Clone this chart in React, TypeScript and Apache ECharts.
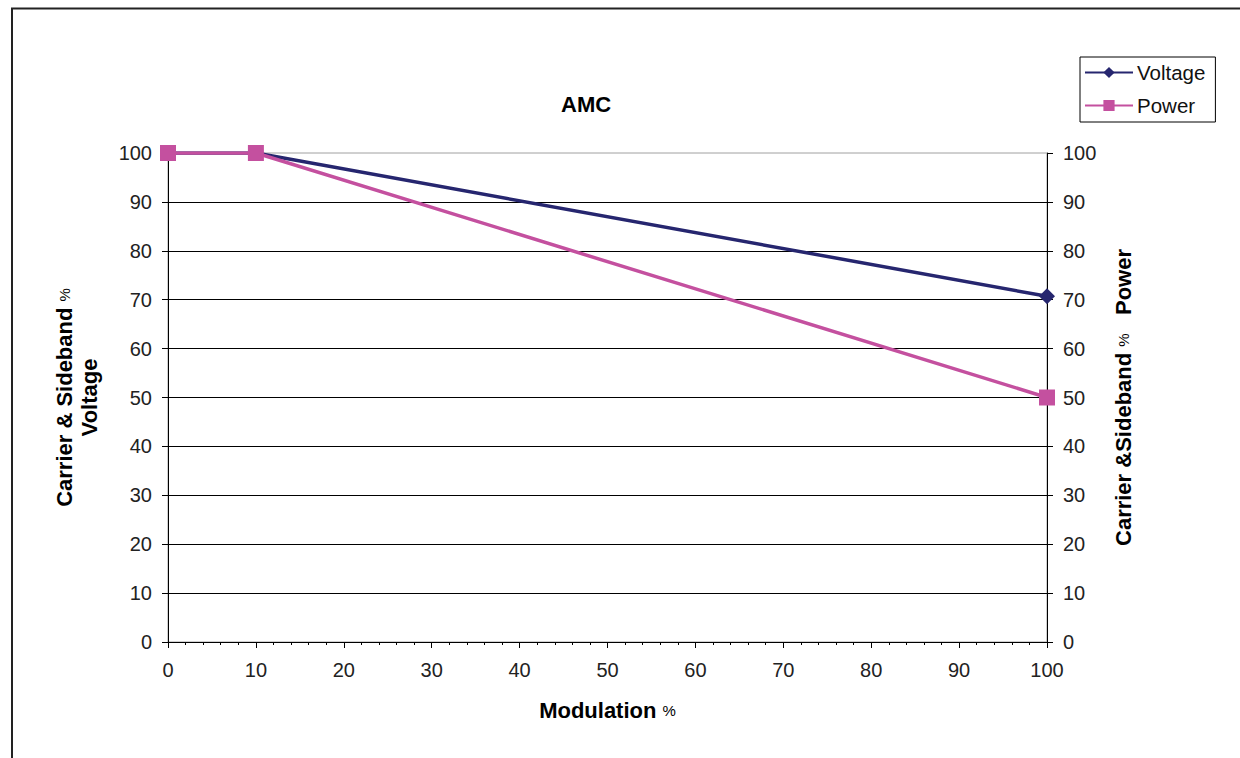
import React, { useEffect, useRef } from "react";
import * as echarts from "echarts";

const modulation: number[] = [0, 10, 100];
const voltage: number[] = [100, 100, 70.7];
const power: number[] = [100, 100, 50];
const xTicks = { min: 0, max: 100, interval: 10 };
const yTicks = { min: 0, max: 100, interval: 10 };

const FONT = "'Liberation Sans', Arial, sans-serif";
const NAVY = "#26266f";
const PINK = "#c4509f";

export default function App() {
  const ref = useRef<HTMLDivElement>(null);
  useEffect(() => {
    if (!ref.current) return;
    const chart = echarts.init(ref.current, undefined, { renderer: "svg" });
    const nameRich = {
      b: { fontSize: 22, fontWeight: "bold", fontFamily: FONT, color: "#000", lineHeight: 25 },
      p: { fontSize: 15, fontWeight: "normal", fontFamily: FONT, color: "#000", lineHeight: 25 },
    };
    const labelStyle = { fontSize: 20, fontFamily: FONT, color: "#222" };
    const option: any = {
      animation: false,
      backgroundColor: "#fff",
      title: {
        text: "AMC",
        left: 561,
        top: 93,
        padding: 0,
        textStyle: { fontSize: 22, fontWeight: "bold", fontFamily: FONT, color: "#000" },
      },
      legend: {
        orient: "vertical",
        left: 1080,
        top: 57,
        padding: [5, 10, 6, 4],
        itemWidth: 48,
        itemHeight: 14,
        itemGap: 12,
        borderColor: "#000",
        borderWidth: 1,
        backgroundColor: "#fff",
        textStyle: { fontSize: 20.5, fontFamily: FONT, color: "#111", padding: [0, 0, 0, -1] },
        data: ["Voltage", "Power"],
      },
      grid: {
        left: 168,
        right: 193,
        top: 153,
        bottom: 116,
        show: true,
        borderColor: "#a0a0a0",
        borderWidth: 1,
        backgroundColor: "transparent",
      },
      xAxis: {
        type: "value",
        min: xTicks.min,
        max: xTicks.max,
        interval: xTicks.interval,
        name: "{b|Modulation }{p|%}",
        nameLocation: "middle",
        nameGap: 56,
        nameTextStyle: { rich: nameRich },
        axisLine: { show: true, onZero: false, lineStyle: { color: "#000", width: 1 } },
        axisTick: { show: true, length: 6, lineStyle: { color: "#000" } },
        minorTick: { show: true, splitNumber: 5, length: 3, lineStyle: { color: "#000" } },
        splitLine: { show: false },
        axisLabel: { ...labelStyle, margin: 18 },
      },
      yAxis: [
        {
          type: "value",
          position: "left",
          min: yTicks.min,
          max: yTicks.max,
          interval: yTicks.interval,
          name: "{b|Carrier & Sideband }{p|%}\n{b|Voltage}",
          nameLocation: "middle",
          nameGap: 66,
          nameTextStyle: { rich: nameRich },
          axisLine: { show: true, lineStyle: { color: "#000", width: 1 } },
          axisTick: { show: true, length: 6, lineStyle: { color: "#000" } },
          splitLine: { show: true, showMinLine: false, showMaxLine: false, lineStyle: { color: "#000", width: 1 } },
          axisLabel: { ...labelStyle, margin: 16 },
        },
        {
          type: "value",
          position: "right",
          min: yTicks.min,
          max: yTicks.max,
          interval: yTicks.interval,
          name: "{b|Carrier &Sideband }{p|%}{b|   Power}",
          nameLocation: "middle",
          nameGap: 64,
          nameTextStyle: { rich: nameRich },
          axisLine: { show: true, lineStyle: { color: "#000", width: 1 } },
          axisTick: { show: true, length: 6, lineStyle: { color: "#000" } },
          splitLine: { show: false },
          axisLabel: { ...labelStyle, margin: 16 },
        },
      ],
      series: [
        {
          name: "Voltage",
          type: "line",
          data: modulation.map((m, i) => [m, voltage[i]]),
          symbol: "diamond",
          symbolSize: 16,
          lineStyle: { color: NAVY, width: 3.5 },
          itemStyle: { color: NAVY },
        },
        {
          name: "Power",
          type: "line",
          data: modulation.map((m, i) => [m, power[i]]),
          symbol: "rect",
          symbolSize: 16,
          lineStyle: { color: PINK, width: 3.5 },
          itemStyle: { color: PINK },
        },
      ],
      graphic: [
        { type: "line", shape: { x1: 11, y1: 8.5, x2: 1240, y2: 8.5 }, style: { stroke: "#222", lineWidth: 2 }, z: 100 },
        { type: "line", shape: { x1: 12, y1: 8, x2: 12, y2: 758 }, style: { stroke: "#222", lineWidth: 2 }, z: 100 },
      ],
    };
    chart.setOption(option);
    return () => chart.dispose();
  }, []);
  return (
    <div
      ref={ref}
      style={{ position: "fixed", left: 0, top: 0, width: 1240, height: 758, background: "#fff" }}
    />
  );
}
